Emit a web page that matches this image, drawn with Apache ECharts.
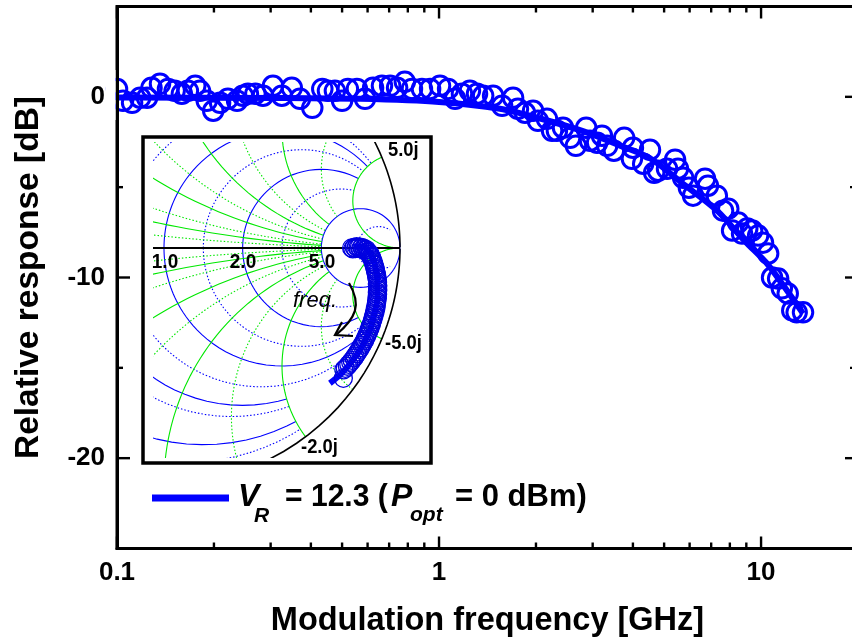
<!DOCTYPE html>
<html>
<head>
<meta charset="utf-8">
<style>html,body{margin:0;padding:0;background:#fff;overflow:hidden}#c{width:852px;height:642px}</style>
<script src="https://cdn.jsdelivr.net/npm/echarts@6/dist/echarts.min.js"></script>
</head>
<body>
<div id="c"></div>
<script>
// Measured response (GHz, dB)
var measFreq = [0.1,0.1044,0.1114,0.118,0.124,0.128,0.136,0.144,0.151,0.159,0.166,0.175,0.181,0.19,0.199,0.209,0.221,0.236,0.246,0.255,0.269,0.284,0.305,0.325,0.349,0.37,0.404,0.434,0.452,0.475,0.5,0.521,0.556,0.589,0.624,0.665,0.705,0.741,0.783,0.824,0.885,0.938,1.007,1.067,1.122,1.178,1.247,1.312,1.371,1.472,1.57,1.698,1.758,1.849,1.959,2.028,2.163,2.244,2.323,2.427,2.553,2.661,2.864,2.944,3.097,3.206,3.327,3.491,3.758,3.972,4.0,4.305,4.519,4.656,4.786,5.105,5.408,5.52,5.728,5.97,6.15,6.7,6.84,7.29,7.62,7.91,8.13,8.49,8.73,9.06,9.38,9.79,10.14,10.52,10.82,11.3,11.6,12.1,12.5,12.9,13.5];
var measDb = [0.43,-0.22,-0.33,-0.05,-0.05,0.5,0.72,0.44,0.33,0.17,0.33,0.61,0.33,-0.22,-0.77,-0.33,-0.11,-0.22,0.06,0.17,0.17,0.06,0.61,0.06,0.5,-0.11,-0.61,0.44,0.33,0.33,-0.22,0.44,0.44,-0.11,0.5,0.61,0.61,0.5,0.83,0.44,0.44,0.44,0.61,0.44,-0.11,0.17,0.33,0.17,0.06,0.06,-0.5,-0.05,-0.66,-0.88,-0.77,-1.33,-1.22,-1.88,-1.88,-1.71,-2.27,-2.71,-1.71,-2.43,-2.54,-2.15,-2.71,-2.98,-2.27,-3.43,-2.82,-3.7,-2.93,-4.2,-4.09,-3.98,-3.48,-3.98,-4.48,-5.03,-5.47,-4.53,-4.92,-5.47,-6.3,-6.19,-7.4,-6.96,-7.57,-7.29,-7.4,-7.68,-8.07,-8.67,-10,-10.06,-10.6,-10.88,-11.82,-11.93,-11.93];
// Fitted response
var fitFreq = [0.1,0.321,0.569,1,1.546,2.06,2.8,3.65,4.52,5.81,7.3,8.92,10.4,11.9,13.5];
var fitDb = [-0.03,-0.06,-0.11,-0.28,-0.66,-1.2,-1.9,-2.7,-3.4,-4.9,-6.3,-8,-9.2,-10.6,-12];
// Inset: reflection coefficient, measured
var s11Re = [.795,.8,.806,.812,.816,.822,.828,.833,.838,.843,.848,.852,.858,.861,.866,.87,.873,.877,.88,.883,.886,.888,.891,.893,.895,.897,.899,.901,.902,.904,.905,.904,.906,.905,.906,.904,.905,.903,.904,.901,.901,.898,.899,.895,.895,.891,.89,.886,.885,.881,.879,.874,.873,.868,.866,.86,.858,.852,.849,.843,.839,.833,.829,.822,.817,.81,.805,.797,.791,.783,.777,.768,.762,.76];
var s11Im = [0,-.004,.003,-.002,.006,.002,.004,-.003,.003,-.004,-.002,-.01,-.007,-.016,-.018,-.028,-.025,-.036,-.04,-.05,-.058,-.066,-.072,-.082,-.09,-.098,-.108,-.116,-.126,-.134,-.144,-.152,-.16,-.17,-.178,-.188,-.196,-.206,-.214,-.224,-.232,-.242,-.25,-.26,-.268,-.278,-.286,-.296,-.304,-.314,-.322,-.332,-.34,-.35,-.358,-.368,-.376,-.386,-.394,-.404,-.412,-.422,-.43,-.44,-.448,-.458,-.466,-.476,-.484,-.493,-.501,-.51,-.516,-.552];
// Inset: fit
var s11FitRe = [.802,.838,.873,.894,.904,.904,.89,.87,.838,.795,.746,.703];
var s11FitIm = [.006,.006,-.023,-.072,-.136,-.206,-.284,-.355,-.418,-.482,-.538,-.573];
// Smith grid families: [value, limit]
var resSolid = [[.2,2],[.5,2],[1,5],[2,5],[5,1000]];
var resDotted = [[.1,2],[.4,2],[.7,5],[1.4,5],[3,5],[10,20]];
var reactSolid = [[.2,5],[.5,5],[1,5],[2,5],[5,300]];
var reactDotted = [[.1,5],[.3,5],[.7,5],[1.4,5],[3,5]];
var rimR = [[0,1000]];
var xMajor = [0.1,1,10];
var xMinor = [0.2,0.3,0.4,0.5,0.6,0.7,0.8,0.9,2,3,4,5,6,7,8,9];
var yMajor = [0,-10,-20];
var yMinor = [5,-5,-15,-25];
var xLabels = {'0.1':'0.1','1':'1','10':'10'};
var yLabels = {'0':'0','-10':'-10','-20':'-20'};

function pairs(a,b){return a.map(function(v,i){return [v,b[i]];});}
function gamma(r,x){var d=(r+1)*(r+1)+x*x;return [(r*r+x*x-1)/d,2*x/d];}
function sweep(lim){var s=[0],v=0.004;while(v<lim){s.push(v);v*=1.08;}s.push(lim);return s;}

function smithItem(kind,color,lw,dash){
  return function(params,api){
    var val=api.value(0),lim=api.value(1),s=sweep(lim),pts,children=[];
    function make(sign){
      pts=[];
      s.forEach(function(t){
        var g=kind==='r'?gamma(val,sign*t):gamma(t,sign*val);
        pts.push(api.coord(g));
      });
      return {type:'polyline',shape:{points:pts},style:{fill:'none',stroke:color,lineWidth:lw,lineDash:dash}};
    }
    children.push(make(1));children.push(make(-1));
    return {type:'group',children:children};
  };
}
function smithSeries(name,data,kind,color,lw,dash){
  return {name:name,type:'custom',xAxisIndex:1,yAxisIndex:1,clip:true,z:1,silent:true,
    renderItem:smithItem(kind,color,lw,dash),data:data,animation:false};
}
function tickSeries(data,axis,len,rightLen){
  return {name:axis+'ticks',type:'custom',xAxisIndex:0,yAxisIndex:0,clip:false,z:1,silent:true,animation:false,
    data:data.map(function(v){return axis==='x'?[v,0]:[1,v];}),
    renderItem:function(params,api){
      var cs=params.coordSys,p=api.coord([api.value(0),api.value(1)]),a,b;
      if(axis==='x'){a=[[p[0],cs.y+cs.height],[p[0],cs.y+cs.height-len]];b=[[p[0],cs.y],[p[0],cs.y+len]];}
      else{a=[[cs.x,p[1]],[cs.x+len,p[1]]];b=[[cs.x+cs.width,p[1]],[cs.x+cs.width-(rightLen||len),p[1]]];}
      function seg(q){return {type:'line',shape:{x1:q[0][0],y1:q[0][1],x2:q[1][0],y2:q[1][1]},style:{stroke:'#000',lineWidth:2.4}};}
      return {type:'group',children:[seg(a),seg(b)]};
    }};
}

function label(t,x,y,font,align,sx){
  return {type:'text',x:x,y:y,scaleX:sx||1,z:6,silent:true,style:{text:t,x:0,y:0,font:font,fill:'#000',textAlign:align||'left',textVerticalAlign:'middle',verticalAlign:'middle'}};
}
var boldFont='bold 31px "Liberation Sans"';
var insetFont='bold 20px "Liberation Sans"';
var legFont='italic bold 32px "Liberation Sans"';
var graphic=[
  {type:'rect',z:0,silent:true,shape:{x:143,y:137,width:288,height:326},style:{fill:'none',stroke:'#000',lineWidth:3.5}},
  {type:'rect',z:3,silent:true,shape:{x:105.5,y:70,width:10,height:50},style:{fill:'#fff',stroke:null}},
  label('1.0',165,262,insetFont,'center',.95),
  label('2.0',243,262,insetFont,'center',.95),
  label('5.0',322,262,insetFont,'center',.95),
  label('5.0j',388,150,insetFont,'left',.92),
  label('-5.0j',385,343,insetFont,'left',.92),
  label('-2.0j',301,447,insetFont,'left',.92),
  label('freq.',293,301,'italic 22px "Liberation Sans"'),
  {type:'bezierCurve',z:6,silent:true,shape:{x1:349,y1:283,cpx1:362,cpy1:305,cpx2:356,cpy2:318,x2:336,y2:335},style:{fill:'none',stroke:'#000',lineWidth:2.2}},
  {type:'polyline',z:6,silent:true,shape:{points:[[342,322],[335,335],[353,336]]},style:{fill:'none',stroke:'#000',lineWidth:2.2}},
  {type:'line',z:6,silent:true,shape:{x1:152,y1:498,x2:229,y2:498},style:{stroke:'#0000ff',lineWidth:7}},
  label('V',238,497,legFont),
  label('R',254,516,'italic bold 21px "Liberation Sans"'),
  label('= 12.3 (',285,497,boldFont,'left',.97),
  label('P',391,497,legFont),
  label('opt',410,515,'italic bold 21px "Liberation Sans"'),
  label('= 0 dBm)',455,497,boldFont)
];

var chart=echarts.init(document.getElementById('c'),null,{renderer:'canvas'});
chart.setOption({
  animation:false,
  backgroundColor:'#fff',
  graphic:graphic,
  grid:[
    {left:117,top:6.5,width:741,height:542,show:true,borderColor:'#000',borderWidth:3,backgroundColor:'transparent',outerBoundsMode:'none'},
    {left:153,top:142,width:249,height:316,outerBoundsMode:'none'}
  ],
  xAxis:[
    {gridIndex:0,type:'log',logBase:10,min:0.1,max:20,z:5,
     name:'Modulation frequency [GHz]',nameLocation:'middle',nameGap:56,
     nameTextStyle:{fontFamily:'Liberation Sans',fontWeight:'bold',fontSize:32.5,color:'#000'},
     axisLine:{show:true,onZero:false,lineStyle:{color:'#000',width:3}},axisTick:{show:false},splitLine:{show:false},minorTick:{show:false},minorSplitLine:{show:false},
     axisLabel:{show:true,margin:11,fontFamily:'Liberation Sans',fontWeight:'bold',fontSize:26,color:'#000',showMaxLabel:false,
       formatter:function(v){var k=String(+v.toPrecision(3));return xLabels[k]||'';}}},
    {gridIndex:1,type:'value',min:-0.0466,max:1.0085,show:false}
  ],
  yAxis:[
    {gridIndex:0,type:'value',min:-25,max:5,interval:5,z:5,
     name:'Relative response [dB]',nameLocation:'middle',nameGap:71,
     nameTextStyle:{fontFamily:'Liberation Sans',fontWeight:'bold',fontSize:33.5,color:'#000'},
     axisLine:{show:true,onZero:false,lineStyle:{color:'#000',width:3}},axisTick:{show:false},splitLine:{show:false},
     axisLabel:{show:true,margin:12,fontFamily:'Liberation Sans',fontWeight:'bold',fontSize:26,color:'#000',
       formatter:function(v){return yLabels[String(v)]||'';}}},
    {gridIndex:1,type:'value',min:-0.8898,max:0.4492,show:false}
  ],
  series:[
    tickSeries(xMajor,'x',12),tickSeries(xMinor,'x',6),
    tickSeries(yMajor,'y',13),tickSeries(yMinor,'y',6,8),
    {name:'Measured',type:'scatter',xAxisIndex:0,yAxisIndex:0,z:2,data:pairs(measFreq,measDb),symbol:'circle',symbolSize:19.5,
     itemStyle:{color:'transparent',borderColor:'#0000ff',borderWidth:3,opacity:1},silent:true},
    {name:'Fit',type:'line',xAxisIndex:0,yAxisIndex:0,z:2,data:pairs(fitFreq,fitDb),showSymbol:false,symbol:'none',smooth:0.3,
     lineStyle:{color:'#0000ff',width:6},silent:true},
    smithSeries('res solid',resSolid,'r','#0000ff',1.1,null),
    smithSeries('res dotted',resDotted,'r','#0000ff',1.1,[1.5,2]),
    smithSeries('react solid',reactSolid,'x','#00e800',1.1,null),
    smithSeries('react dotted',reactDotted,'x','#00e800',1.1,[1.5,2]),
    smithSeries('rim',rimR,'r','#000',1.6,null),
    {name:'axis line',type:'line',xAxisIndex:1,yAxisIndex:1,z:1,data:[[-0.0466,0],[1,0]],showSymbol:false,symbol:'none',silent:true,lineStyle:{color:'#000',width:2}},
    {name:'S11',type:'scatter',xAxisIndex:1,yAxisIndex:1,z:3,data:pairs(s11Re,s11Im),symbol:'circle',symbolSize:18,
     itemStyle:{color:'transparent',borderColor:'#0000e0',borderWidth:1.3,opacity:1},silent:true},
    {name:'S11 fit',type:'line',xAxisIndex:1,yAxisIndex:1,z:3,data:pairs(s11FitRe,s11FitIm),showSymbol:false,symbol:'none',smooth:0.3,
     lineStyle:{color:'#0000ff',width:6},silent:true}
  ]
});
</script>
</body>
</html>
